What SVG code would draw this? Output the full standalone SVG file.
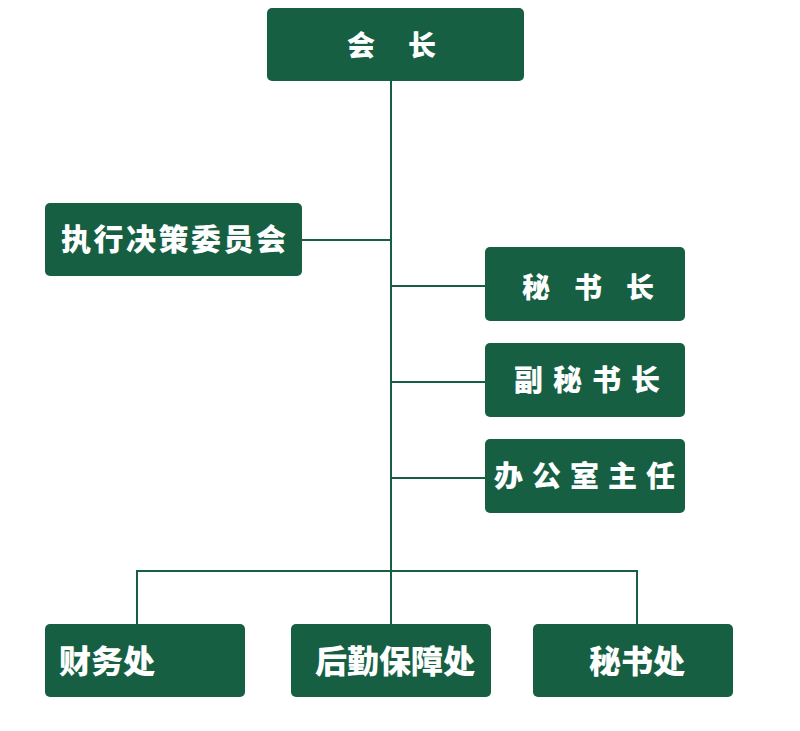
<svg xmlns="http://www.w3.org/2000/svg" width="800" height="731" viewBox="0 0 800 731">
<style>
.box{fill:#165f43;}
.t{fill:#ffffff;font-family:"Noto Sans CJK SC","Noto Sans",sans-serif;font-weight:900;}
.c{stroke:#165f43;stroke-width:2;fill:none;}
</style>
<rect width="800" height="731" fill="#ffffff"/>
<g id="connectors">
<line class="c" x1="391" y1="81" x2="391" y2="624"/>
<line class="c" x1="302" y1="240" x2="391" y2="240"/>
<line class="c" x1="391" y1="286" x2="485" y2="286"/>
<line class="c" x1="391" y1="382" x2="485" y2="382"/>
<line class="c" x1="391" y1="478" x2="485" y2="478"/>
<polyline class="c" points="137,624 137,571 637,571 637,624"/>
</g>
<g id="president">
<rect class="box" x="267" y="8" width="257" height="73" rx="5"/>
<text class="t" x="347" y="56" font-size="28" letter-spacing="33">会长</text>
</g>
<g id="committee">
<rect class="box" x="45" y="203" width="257" height="73" rx="5"/>
<text class="t" x="61" y="250" font-size="30" letter-spacing="2.5">执行决策委员会</text>
</g>
<g id="secretary-general">
<rect class="box" x="485" y="247" width="200" height="74" rx="5"/>
<text class="t" x="522" y="298" font-size="28" letter-spacing="24">秘书长</text>
</g>
<g id="deputy-secretary-general">
<rect class="box" x="485" y="343" width="200" height="74" rx="5"/>
<text class="t" x="514" y="391" font-size="29" letter-spacing="10">副秘书长</text>
</g>
<g id="office-director">
<rect class="box" x="485" y="439" width="200" height="74" rx="5"/>
<text class="t" x="494" y="487" font-size="29" letter-spacing="9">办公室主任</text>
</g>
<g id="finance">
<rect class="box" x="45" y="624" width="200" height="73" rx="5"/>
<text class="t" x="59" y="673" font-size="32">财务处</text>
</g>
<g id="logistics">
<rect class="box" x="291" y="624" width="200" height="73" rx="5"/>
<text class="t" x="315" y="673" font-size="32">后勤保障处</text>
</g>
<g id="secretariat">
<rect class="box" x="533" y="624" width="200" height="73" rx="5"/>
<text class="t" x="589" y="673" font-size="32">秘书处</text>
</g>
</svg>
